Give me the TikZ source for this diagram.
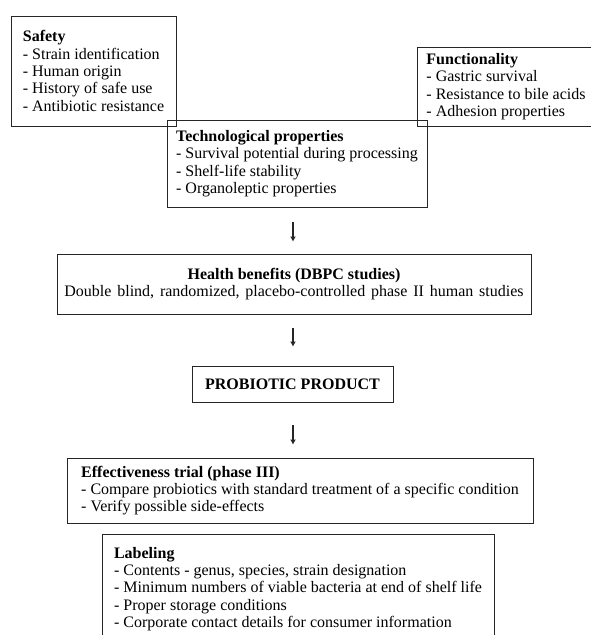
\documentclass[tikz,border=0pt]{standalone}
\usepackage{fontspec}
\setmainfont{Liberation Serif}
\usetikzlibrary{arrows.meta}
\begin{document}
\begin{tikzpicture}[x=1pt,y=-1pt,
  box/.style={draw=black!85, line width=0.9pt, align=left, inner sep=2pt,
    font=\fontsize{16}{17.4}\selectfont},
  cbox/.style={box, align=center},
  arr/.style={-{Latex[length=5pt,width=6pt]}, line width=1.2pt, black!85}]
\useasboundingbox (0,0) rectangle (591,635);
\node[box, minimum width=165, minimum height=110] (safety) at (93.5,71)
  {\textbf{Safety}\\- Strain identification\\- Human origin\\- History of safe use\\- Antibiotic resistance};
\node[box, minimum width=178, minimum height=79] (func) at (506,86.5)
  {\textbf{Functionality}\\- Gastric survival\\- Resistance to bile acids\\- Adhesion properties};
\node[box, minimum width=260, minimum height=87] (tech) at (297,163.5)
  {\textbf{Technological properties}\\- Survival potential during processing\\- Shelf-life stability\\- Organoleptic properties};
\node[cbox, minimum width=474, minimum height=60] (hb) at (294,284)
  {\textbf{Health benefits (DBPC studies)}\\{\spaceskip=5.8pt plus 1pt Double blind, randomized, placebo-controlled phase II human studies}};
\node[cbox, minimum width=201, minimum height=36] (pp) at (292.5,384)
  {\textbf{PROBIOTIC PRODUCT}};
\node[box, minimum width=466, minimum height=65] (eff) at (300,490.5)
  {\textbf{Effectiveness trial (phase III)}\\- Compare probiotics with standard treatment of a specific condition\\- Verify possible side-effects};
\node[box, minimum width=392, minimum height=110] (lab) at (298,589)
  {\textbf{Labeling}\\- Contents - genus, species, strain designation\\- Minimum numbers of viable bacteria at end of shelf life\\- Proper storage conditions\\- Corporate contact details for consumer information};
\draw[arr, shorten <=15pt, shorten >=12pt] ([xshift=-1pt]hb.north |- tech.south) -- ([xshift=-1pt]hb.north);
\draw[arr, shorten <=14pt, shorten >=19pt] ([xshift=-1pt]hb.south) -- ([xshift=-1pt]hb.south |- pp.north);
\draw[arr, shorten <=23pt, shorten >=13pt] ([xshift=0.5pt]pp.south) -- ([xshift=0.5pt]pp.south |- eff.north);
\end{tikzpicture}
\end{document}
